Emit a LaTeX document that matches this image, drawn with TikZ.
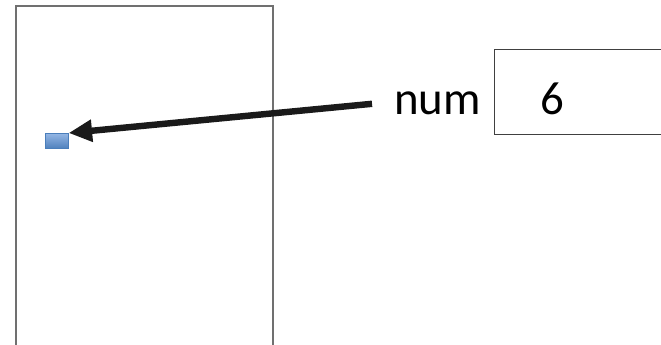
\documentclass[tikz,border=0pt]{standalone}
\usepackage{fontspec}
\setmainfont{Carlito}
\usepackage{tikz}
\usetikzlibrary{arrows.meta,calc,positioning,shadows}
\definecolor{framegray}{HTML}{707070}
\definecolor{boxgray}{HTML}{404040}
\definecolor{cellblue}{HTML}{4F81BD}
\definecolor{celllight}{HTML}{94B6E4}
\definecolor{celledge}{HTML}{4A7EBB}
\definecolor{arrowblack}{HTML}{1A1A1A}

\begin{document}
\begin{tikzpicture}[x=0.03cm,y=-0.03cm,
  bigtext/.style={font=\fontsize{40}{44}\selectfont,inner sep=0pt},
  cell/.style={draw=celledge,line width=0.6pt,top color=celllight,bottom color=cellblue,
    minimum width=19.6pt,minimum height=12.8pt,inner sep=0pt,
    drop shadow={opacity=0.25,shadow xshift=0.8pt,shadow yshift=-0.8pt}},
  valbox/.style={draw=boxgray,line width=0.8pt,minimum width=190pt,minimum height=72.3pt,inner sep=0pt},
  pointer/.style={arrowblack,line width=5.5pt,-{Triangle[length=20pt,width=18pt]}}]
  \useasboundingbox (0,0) rectangle (661,345);
  \clip (0,0) rectangle (661,345);
  % stack frame
  \draw[framegray,line width=0.9pt] (16,6) rectangle (273,360);
  \node[cell,anchor=north west] (var) at (45,133) {};
  % variable name and its value
  \node[bigtext,anchor=base,inner xsep=18.7pt] (num) at (437.5,115) {num};
  \node[valbox,anchor=north west] (numbox) at (494,49) {};
  \node[bigtext,anchor=base] (six) at (552.5,115) {6};
  \draw[pointer] (num.west) -- (var.north east);
\end{tikzpicture}
\end{document}
